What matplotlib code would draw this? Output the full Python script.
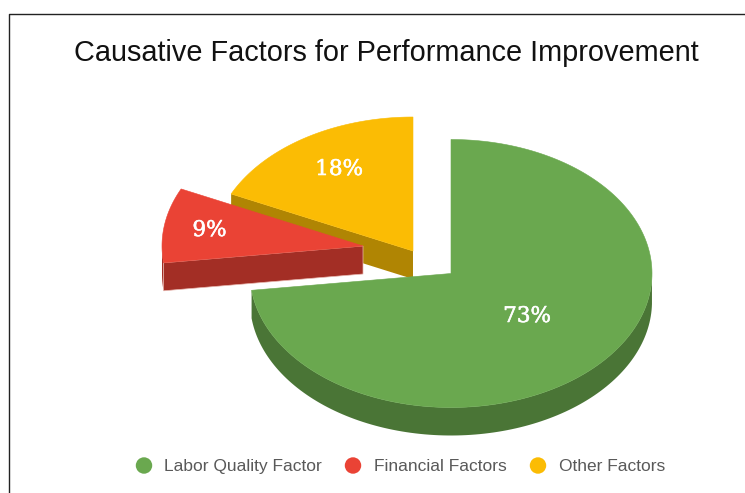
import numpy as np
import matplotlib
matplotlib.use('Agg')
import matplotlib.pyplot as plt
import matplotlib.patheffects as pe
from matplotlib.patches import Polygon

# slice data, clockwise from 12 o'clock
labels = ["Labor Quality Factor", "Financial Factors", "Other Factors"]
shares = [73, 9, 18]
colors = ['#6aa84f', '#ea4335', '#fbbc04']
side_colors = ['#4a7536', '#a32e25', '#b08503']
# pie centre of each slice once exploded, in image pixels
centers = [(451, 273.5), (363, 246), (413, 251)]

rx, ry = 201, 134
depth = 28

fig = plt.figure(figsize=(7.45, 4.93), dpi=100, facecolor='white')
ax = fig.add_axes([0, 0, 1, 1])
ax.set_xlim(0, 745)
ax.set_ylim(493, 0)
ax.axis('off')

# picture frame
ax.plot([9, 9, 745], [493, 13.5, 13.5], color='#222222', lw=1.0)


def rim(cx, cy, a0, a1):
    t = np.radians(np.linspace(a0, a1, 200))
    return cx + rx * np.sin(t), cy - ry * np.cos(t)


# angles in degrees for each slice
stops = np.cumsum([0] + shares) / sum(shares) * 360

# far slices first so the green one ends up on top
for i in [2, 1, 0]:
    a0, a1 = stops[i], stops[i + 1]
    cx, cy = centers[i]
    x, y = rim(cx, cy, a0, a1)
    z = 2 + 3 * (2 - i)

    # outer wall, only where the rim faces the viewer
    ang = np.linspace(a0, a1, 200) % 360
    vis = (ang >= 90) & (ang <= 270)
    if vis.any():
        xs, ys = x[vis], y[vis]
        wall = np.column_stack([np.r_[xs, xs[::-1]], np.r_[ys, ys[::-1] + depth]])
        ax.add_patch(Polygon(wall, closed=True, fc=side_colors[i], ec='none', zorder=z))

    # cut face on the starting edge of the two pulled out slices
    if i > 0:
        face = [(cx, cy), (x[0], y[0]), (x[0], y[0] + depth), (cx, cy + depth)]
        edge = '#e8b8b0' if i == 1 else 'none'
        ax.add_patch(Polygon(face, closed=True, fc=side_colors[i], ec=edge, lw=0.5, zorder=z + 1))

    top = np.column_stack([np.r_[cx, x], np.r_[cy, y]])
    ax.add_patch(Polygon(top, closed=True, fc=colors[i], ec=colors[i], lw=0.4, zorder=z + 2))

# percent labels, thickened a little since the source face is heavier
label_xy = [(527, 316), (209.5, 230), (339, 169)]
for share, (lx, ly) in zip(shares, label_xy):
    ax.text(lx, ly, f"{share}%", color='white', fontsize=15.5, ha='center', va='center',
            family='DejaVu Serif', zorder=20,
            path_effects=[pe.withStroke(linewidth=0.4, foreground='white')])

ax.text(386, 53, "Causative Factors for Performance Improvement", fontsize=20.8, color='#111111',
        ha='center', va='center', family='Liberation Sans')

# legend row
dot_x = [144, 353, 538]
text_x = [164, 374, 559]
for name, col, dx, tx in zip(labels, colors, dot_x, text_x):
    ax.scatter([dx], [465.5], s=140, color=col, edgecolors='none', zorder=20)
    ax.text(tx, 466.5, name, fontsize=12.5, color='#595959', ha='left', va='center', family='Liberation Sans')

plt.savefig('out.png', dpi=100, facecolor='white')
plt.close()
